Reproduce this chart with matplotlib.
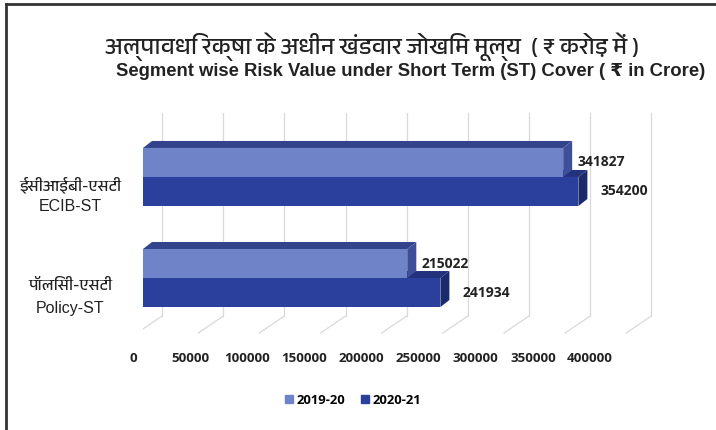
import numpy as np
import matplotlib
matplotlib.use('Agg')
import matplotlib.pyplot as plt
from matplotlib.patches import Patch
from matplotlib.lines import Line2D
from matplotlib import font_manager
from matplotlib.ft2font import FT2Font

# DATA ---------------------------------------------------------------------->
categories_hi = ['ईसीआईबी-एसटी', 'पॉलिसी-एसटी']
categories_en = ['ECIB-ST', 'Policy-ST']
series_names = ['2019-20', '2020-21']
values_1920 = [341827, 215022]
values_2021 = [354200, 241934]
tick_values = [0, 50000, 100000, 150000, 200000, 250000, 300000, 350000, 400000]

title_hi = 'अल्पावधि रक्षा के अधीन खंडवार जोखिम मूल्य  ( ₹ करोड़ में )'
title_en = 'Segment wise Risk Value under Short Term (ST) Cover ( ₹ in Crore)'

# colours: front, top, side
light = ('#6f84c8', '#34448c', '#3e4e98')
dark = ('#2b3f9c', '#22327c', '#1a2a6c')


# find a font with devanagari glyphs, if there is one
def find_deva_font():
    fonts = sorted(font_manager.fontManager.ttflist,
                   key=lambda f: 'Devanagari' not in f.name)
    for f in fonts:
        try:
            cmap = FT2Font(f.fname).get_charmap()
        except Exception:
            continue
        if 0x0905 in cmap and 0x0915 in cmap and 0x093F in cmap:
            return f.name
    return None


deva = find_deva_font()
hi_family = ([deva] if deva else []) + ['Liberation Sans', 'DejaVu Sans']
en_family = ['Liberation Sans', 'DejaVu Sans']
num_family = ['Open Sans', 'DejaVu Sans']

W, H = 716, 430
fig = plt.figure(figsize=(W / 100, H / 100), dpi=100)
fig.patch.set_facecolor('white')

# main plotting area (front face scale)
ax = fig.add_axes([143 / W, 1 - 345 / H, 547 / W, 245 / H])
ax.set_xlim(0, 445000)
ax.set_ylim(1.663, -0.762)
ax.axis('off')

px = 445000 / 547.0          # data units per pixel (x)
py = 1 / 101.0               # data units per pixel (y)
ddx, ddy = 9 * px, -7 * py   # bar depth
bar_h = 29 * py
y_pos = np.arange(len(categories_en))

# back wall gridlines and floor lines
g_top, g_bot, f_bot = -64 * py, 139 * py, 156 * py
for v in tick_values:
    xb = 15500 + v * 0.995
    ax.plot([xb, xb], [g_top, g_bot], color='#d9d9d9', lw=0.9, zorder=1)
    ax.plot([xb, xb - 25 * px], [g_bot, f_bot], color='#d9d9d9', lw=0.9, zorder=1)


def bar3d(y0, v, cols, z):
    y1 = y0 + bar_h
    ax.barh(y0 + bar_h / 2, v, height=bar_h, left=0, color=cols[0], zorder=z + 0.2)
    ax.fill([0, v, v + ddx, ddx], [y0, y0, y0 + ddy, y0 + ddy],
            color=cols[1], lw=0, zorder=z)
    ax.fill([v, v + ddx, v + ddx, v], [y0, y0 + ddy, y1 + ddy, y1],
            color=cols[2], lw=0, zorder=z + 0.1)


for i, y in enumerate(y_pos):
    bar3d(y, values_2021[i], dark, 2)
    bar3d(y - bar_h, values_1920[i], light, 3)
    ax.annotate(str(values_1920[i]), (values_1920[i], y - bar_h / 2),
                xytext=(14, 0), textcoords='offset pixels', va='center', ha='left',
                fontsize=10, fontweight='bold', family=num_family, color='#222222')
    ax.annotate(str(values_2021[i]), (values_2021[i], y + bar_h / 2),
                xytext=(22, 0), textcoords='offset pixels', va='center', ha='left',
                fontsize=10, fontweight='bold', family=num_family, color='#222222')

    # category labels
    ax.annotate(categories_hi[i], (0, y), xytext=(-73, -8), textcoords='offset pixels',
                ha='center', va='center', fontsize=11.5, family=hi_family, color='#222222')
    ax.annotate(categories_en[i], (0, y), xytext=(-73, -30), textcoords='offset pixels',
                ha='center', va='center', fontsize=11.5, family=en_family, color='#222222')

# front floor tick labels
lab = fig.add_axes([133 / W, 1 - 350 / H, (590 - 133) / W, 0.0001])
lab.set_xlim(0, 400000)
lab.set_xticks(tick_values)
lab.set_xticklabels([str(t) for t in tick_values], fontsize=9.6, fontweight='bold',
                    family=num_family, color='#222222')
lab.tick_params(axis='x', length=0, pad=1.5)
lab.set_yticks([])
for s in lab.spines.values():
    s.set_visible(False)
lab.patch.set_alpha(0)

# titles
fig.text(372 / W, 1 - 47 / H, title_hi, ha='center', va='center', fontsize=17,
         family=hi_family, color='#222222')
fig.text(411 / W, 1 - 72 / H, title_en, ha='center', va='center', fontsize=13.3,
         fontweight='bold', family=en_family, color='#222222')

# legend
handles = [Patch(color=light[0]), Patch(color=dark[0])]
fig.legend(handles, series_names, loc='center', bbox_to_anchor=(353 / W, 1 - 400 / H),
           ncol=2, frameon=False, handlelength=0.6, handleheight=0.6,
           handletextpad=0.3, columnspacing=1.2,
           prop={'family': num_family, 'weight': 'bold', 'size': 9.4})

# page frame
fig.add_artist(Line2D([6 / W, 6 / W], [0, 1 - 4 / H], color='#333333', lw=2))
fig.add_artist(Line2D([6 / W, 1], [1 - 4 / H, 1 - 4 / H], color='#333333', lw=2))

fig.savefig('out.png', dpi=100)
